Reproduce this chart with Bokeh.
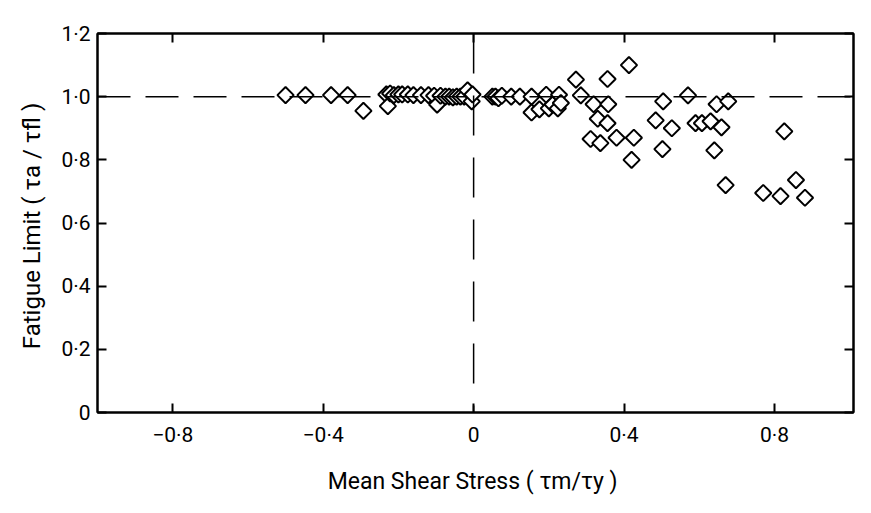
import math
from bokeh.plotting import figure
from bokeh.models import LinearAxis, Range1d, FixedTicker, Span, ColumnDataSource
from bokeh.embed import file_html
from bokeh.resources import INLINE

# ---- data ----
x_vals = [-0.500, -0.447, -0.379, -0.335, -0.293,
          -0.232, -0.228, -0.222, -0.212, -0.200, -0.190, -0.175, -0.160, -0.140,
          -0.120, -0.105, -0.097, -0.088, -0.075, -0.065, -0.055, -0.045, -0.035,
          -0.025, -0.016, -0.005, -0.003,
          0.050, 0.058, 0.066, 0.075, 0.100, 0.123, 0.154, 0.154, 0.175, 0.193,
          0.200, 0.210, 0.224, 0.227, 0.232, 0.272, 0.285,
          0.311, 0.319, 0.330, 0.337, 0.356, 0.358, 0.356, 0.380, 0.413, 0.426,
          0.420, 0.484, 0.502, 0.504, 0.527, 0.570, 0.590, 0.607, 0.630, 0.640,
          0.646, 0.659, 0.670, 0.677, 0.770, 0.816, 0.826, 0.857, 0.881]
y_vals = [1.005, 1.005, 1.005, 1.005, 0.955,
          1.007, 0.970, 1.010, 1.005, 1.007, 1.007, 1.007, 1.005, 1.005,
          1.005, 1.003, 0.975, 1.003, 1.000, 1.000, 0.998, 1.000, 1.000,
          1.000, 1.020, 0.985, 1.007,
          1.000, 1.000, 0.995, 1.003, 1.000, 1.000, 1.000, 0.950, 0.960, 1.006,
          0.963, 0.975, 0.963, 1.006, 0.980, 1.054, 1.004,
          0.866, 0.976, 0.930, 0.853, 1.056, 0.976, 0.916, 0.870, 1.100, 0.870,
          0.800, 0.925, 0.834, 0.985, 0.900, 1.004, 0.916, 0.916, 0.922, 0.830,
          0.976, 0.903, 0.720, 0.985, 0.695, 0.685, 0.890, 0.736, 0.680]

x_ticks = [-0.8, -0.4, 0.0, 0.4, 0.8]
x_tick_labels = ["\u22120\u00b78", "\u22120\u00b74", "0", "0\u00b74", "0\u00b78"]
y_ticks = [0.0, 0.2, 0.4, 0.6, 0.8, 1.0, 1.2]
y_tick_labels = ["0", "0\u00b72", "0\u00b74", "0\u00b76", "0\u00b78", "1\u00b70", "1\u00b72"]

FONT = "Roboto"

p = figure(width=855, height=497, output_backend="svg", toolbar_location=None,
           x_range=Range1d(-1.0, 1.01), y_range=Range1d(0.0, 1.2),
           x_axis_location=None, y_axis_location=None,
           min_border_left=97, min_border_right=2, min_border_top=33, min_border_bottom=85)
p.grid.visible = False
p.outline_line_color = "black"
p.outline_line_width = 2
p.background_fill_color = "white"
p.border_fill_color = "white"

def style_axis(ax, ticks, labels=None):
    ax.ticker = FixedTicker(ticks=ticks)
    ax.axis_line_color = "black"
    ax.axis_line_width = 2
    ax.major_tick_line_color = "black"
    ax.major_tick_line_width = 2
    ax.major_tick_in = 9
    ax.major_tick_out = 0
    ax.minor_tick_line_color = None
    if labels is None:
        ax.major_label_text_font_size = "0px"
        ax.major_label_text_color = None
    else:
        ax.major_label_overrides = {t: l for t, l in zip(ticks, labels)}
        ax.major_label_text_font = FONT
        ax.major_label_text_font_size = "21px"
        ax.major_label_text_color = "black"

bottom = LinearAxis(axis_label="Mean Shear Stress  ( \u03c4m/\u03c4y )")
style_axis(bottom, x_ticks, x_tick_labels)
bottom.major_label_standoff = 10
bottom.axis_label_standoff = 18
bottom.axis_label_text_font = FONT
bottom.axis_label_text_font_size = "23px"
bottom.axis_label_text_font_style = "normal"
bottom.axis_label_text_color = "black"
p.add_layout(bottom, "below")

left = LinearAxis(axis_label="Fatigue Limit  ( \u03c4a / \u03c4fl )")
style_axis(left, y_ticks, y_tick_labels)
left.major_label_standoff = 7
left.axis_label_standoff = 12
left.axis_label_text_font = FONT
left.axis_label_text_font_size = "24px"
left.axis_label_text_font_style = "normal"
left.axis_label_text_color = "black"
p.add_layout(left, "left")

top = LinearAxis()
style_axis(top, x_ticks)
p.add_layout(top, "above")

right = LinearAxis()
style_axis(right, y_ticks)
p.add_layout(right, "right")

p.add_layout(Span(location=1.0, dimension="width", line_color="black",
                  line_width=1.5, line_dash="33 15"))
p.add_layout(Span(location=0.0, dimension="height", line_color="black",
                  line_width=1.5, line_dash="40 22"))

src = ColumnDataSource(dict(x=x_vals, y=y_vals))
p.scatter("x", "y", source=src, marker="square", size=11.5, angle=math.pi / 4,
          fill_color="white", line_color="black", line_width=2)

open("out.html", "w").write(file_html(p, INLINE))
